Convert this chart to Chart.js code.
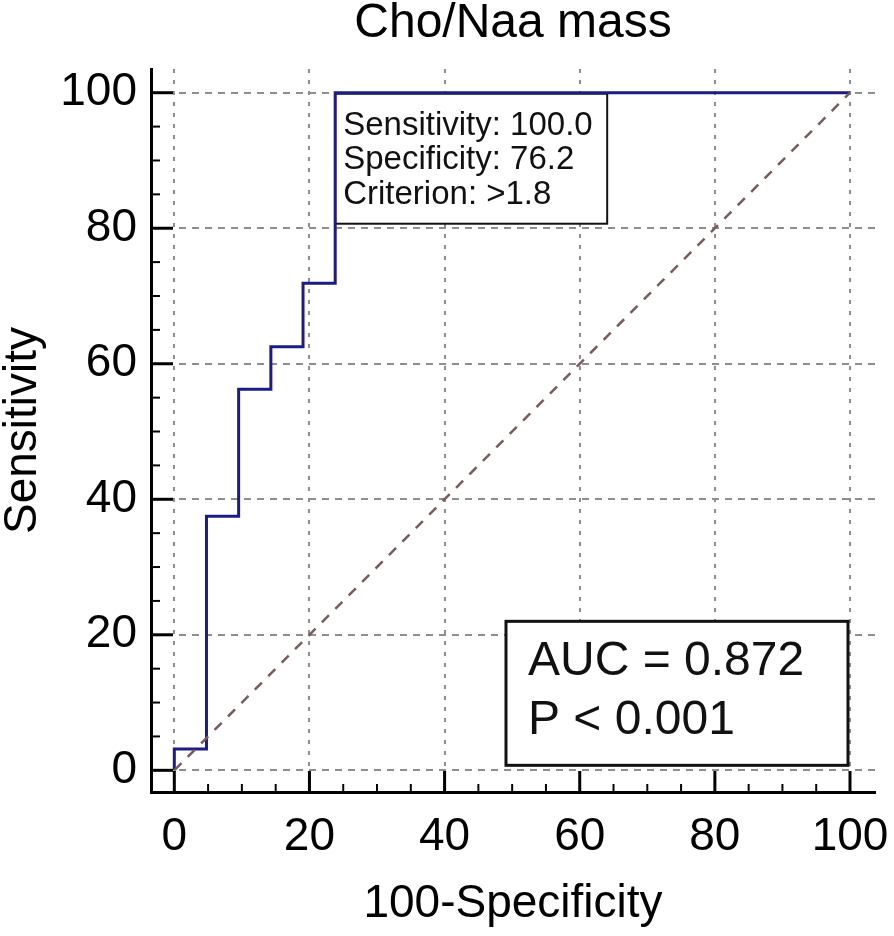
<!DOCTYPE html>
<html>
<head>
<meta charset="utf-8">
<script src="https://cdn.jsdelivr.net/npm/chart.js@4/dist/chart.umd.min.js"></script>
<style>
  html, body { margin: 0; padding: 0; background: #fff; }
  #wrap { width: 894px; height: 936px; position: relative; }
</style>
</head>
<body>
<div id="wrap"><canvas id="c" width="894" height="936"></canvas></div>
<script>
// ---- Data ----
const chartTitle = "Cho/Naa mass";
const xAxisTitle = "100-Specificity";
const yAxisTitle = "Sensitivity";
const tickValues = [0, 20, 40, 60, 80, 100];
// ROC curve corner points (100-Specificity, Sensitivity)
const fpr = [0, 0, 4.76, 4.76, 9.52, 9.52, 14.29, 14.29, 19.05, 19.05, 23.81, 23.81, 100];
const tpr = [0, 3.13, 3.13, 37.5, 37.5, 56.25, 56.25, 62.5, 62.5, 71.88, 71.88, 100, 100];
// Reference diagonal
const diagX = [0, 100];
const diagY = [0, 100];
// Annotations
const cutoffFpr = 23.81;
const cutoffLines = ["Sensitivity: 100.0", "Specificity: 76.2", "Criterion: >1.8"];
const statLines = ["AUC = 0.872", "P < 0.001"];

const FONT = "'Liberation Sans', Arial, Helvetica, sans-serif";

const annotPlugin = {
  id: 'annot',
  beforeDatasetsDraw(chart) {
    const {ctx, scales: {x, y}} = chart;
    ctx.save();
    // cutoff box
    const l1 = x.getPixelForValue(cutoffFpr), t1 = y.getPixelForValue(100) + 1;
    const w1 = 272, h1 = 130;
    ctx.fillStyle = '#fff';
    ctx.fillRect(l1, t1, w1, h1);
    ctx.strokeStyle = '#111';
    ctx.lineWidth = 2;
    ctx.strokeRect(l1, t1, w1, h1);
    ctx.fillStyle = '#111';
    ctx.font = '33px ' + FONT;
    ctx.textBaseline = 'alphabetic';
    ctx.textAlign = 'left';
    const bl = [41, 75, 110];
    cutoffLines.forEach((s, i) => ctx.fillText(s, l1 + 8, t1 + bl[i]));
    // stats box
    const r2 = x.getPixelForValue(100) - 2, b2 = y.getPixelForValue(0) - 5;
    const w2 = 342, h2 = 144;
    const l2 = r2 - w2, t2 = b2 - h2;
    ctx.fillStyle = '#fff';
    ctx.fillRect(l2, t2, w2, h2);
    ctx.strokeStyle = '#111';
    ctx.lineWidth = 3;
    ctx.strokeRect(l2, t2, w2, h2);
    ctx.fillStyle = '#111';
    ctx.font = '48px ' + FONT;
    ctx.fillText(statLines[0], l2 + 22, t2 + 54);
    ctx.fillText(statLines[1], l2 + 22, t2 + 113);
    ctx.restore();
  },
  afterDraw(chart) {
    const {ctx, scales: {x, y}} = chart;
    ctx.save();
    ctx.strokeStyle = '#000';
    const axY = y.getPixelForValue(y.min);
    const axX = x.getPixelForValue(x.min);
    for (let v = 0; v <= 100; v += 5) {
      const major = v % 20 === 0;
      ctx.lineWidth = major ? 3 : 2;
      const px = x.getPixelForValue(v);
      ctx.beginPath();
      ctx.moveTo(px, axY);
      ctx.lineTo(px, axY - (major ? 21 : 8));
      ctx.stroke();
      const py = y.getPixelForValue(v);
      ctx.beginPath();
      ctx.moveTo(axX, py);
      ctx.lineTo(axX + (major ? 22 : 9), py);
      ctx.stroke();
    }
    ctx.restore();
  }
};

new Chart(document.getElementById('c'), {
  type: 'scatter',
  data: {
    datasets: [
      {
        data: diagX.map((v, i) => ({x: v, y: diagY[i]})),
        showLine: true,
        borderColor: '#7a5a5a',
        borderWidth: 2.5,
        borderDash: [10, 9],
        pointRadius: 0,
        clip: false
      },
      {
        data: fpr.map((v, i) => ({x: v, y: tpr[i]})),
        showLine: true,
        borderColor: '#1c1c84',
        borderWidth: 3,
        pointRadius: 0,
        tension: 0,
        clip: false
      }
    ]
  },
  options: {
    responsive: false,
    animation: false,
    layout: { padding: { left: 0, right: 19, top: 0, bottom: 0 } },
    plugins: {
      legend: { display: false },
      tooltip: { enabled: false },
      title: {
        display: true,
        fullSize: false,
        text: chartTitle,
        color: '#000',
        font: { family: FONT, size: 48, weight: 'normal', lineHeight: 1.0 },
        padding: { top: 0, bottom: 21 }
      }
    },
    scales: {
      x: {
        type: 'linear',
        min: -3.45,
        max: 103.7,
        afterBuildTicks: s => { s.ticks = tickValues.map(v => ({value: v})); },
        afterFit: s => { s.height = 144; s.paddingLeft = 0; s.paddingRight = 0; },
        ticks: {
          color: '#000',
          font: { family: FONT, size: 46, lineHeight: 1.0 },
          padding: 22,
          maxRotation: 0,
          autoSkip: false
        },
        grid: { color: '#8e8e8e', lineWidth: 2, drawTicks: false },
        border: { display: true, color: '#000', width: 3, dash: [4, 7] },
        title: {
          display: true,
          text: xAxisTitle,
          color: '#000',
          font: { family: FONT, size: 46, lineHeight: 1.0 },
          padding: { top: 0, bottom: 9 }
        }
      },
      y: {
        type: 'linear',
        min: -3.2,
        max: 103.5,
        afterBuildTicks: s => { s.ticks = tickValues.map(v => ({value: v})); },
        afterFit: s => { s.width = 151; s.paddingTop = 0; s.paddingBottom = 0; },
        ticks: {
          color: '#000',
          font: { family: FONT, size: 46, lineHeight: 1.0 },
          padding: 14,
          autoSkip: false
        },
        grid: { color: '#8e8e8e', lineWidth: 2, drawTicks: false },
        border: { display: true, color: '#000', width: 3, dash: [7, 6] },
        title: {
          display: true,
          text: yAxisTitle,
          color: '#000',
          font: { family: FONT, size: 46, lineHeight: 1.0 },
          padding: { top: 0, bottom: 0 }
        }
      }
    }
  },
  plugins: [annotPlugin]
});
</script>
</body>
</html>
